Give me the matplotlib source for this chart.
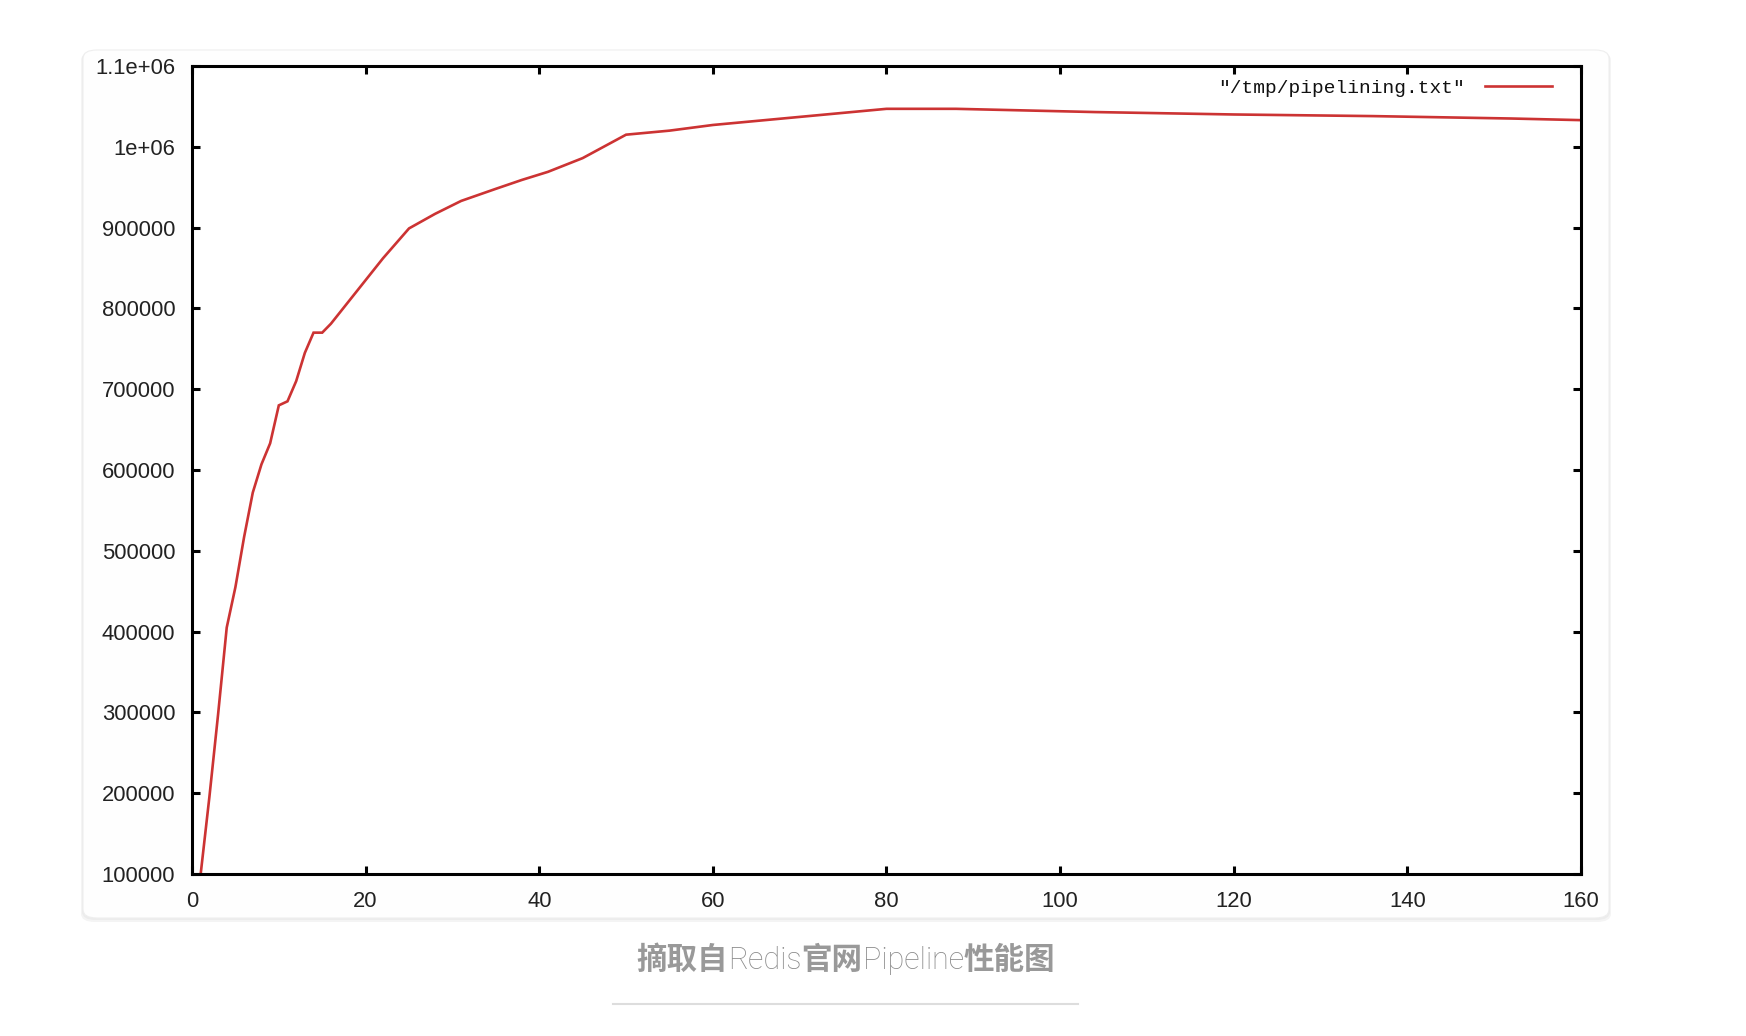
import matplotlib
matplotlib.use("Agg")
import matplotlib.pyplot as plt
from matplotlib.patches import FancyBboxPatch
from matplotlib.lines import Line2D
from matplotlib.offsetbox import TextArea, HPacker, AnchoredOffsetbox

# pipeline size vs. requests per second
pipeline = [1, 2, 3, 4, 5, 6, 7, 8, 9, 10, 11, 12, 13, 14, 15, 16, 18, 20,
            22, 25, 28, 31, 35, 38, 41, 45, 50, 55, 60, 65, 70, 75, 80, 88,
            96, 104, 120, 136, 152, 160]
rps = [100000, 195000, 297000, 405000, 455000, 517000, 572000, 607000,
       633000, 680000, 685000, 710000, 745000, 770000, 770000, 781000,
       808000, 835000, 862000, 899000, 917000, 933000, 948000, 959000,
       969000, 986000, 1015000, 1020000, 1027000, 1032000, 1037000,
       1042000, 1047000, 1047000, 1045000, 1043000, 1040000, 1038000,
       1035000, 1033000]

xticks = [0, 20, 40, 60, 80, 100, 120, 140, 160]
yticks = [100000, 200000, 300000, 400000, 500000, 600000, 700000, 800000,
          900000, 1000000, 1100000]
ytick_labels = ["100000", "200000", "300000", "400000", "500000", "600000",
                "700000", "800000", "900000", "1e+06", "1.1e+06"]
series_name = '"/tmp/pipelining.txt"'
caption_parts = [("摘取自", "cjk"), ("Redis", "latin"), ("官网", "cjk"),
                 ("Pipeline", "latin"), ("性能图", "cjk")]

W, H = 1746, 1036
fig = plt.figure(figsize=(W / 100, H / 100), dpi=100)
fig.patch.set_facecolor("white")

# card with a soft shadow
def px_box(x0, y0, x1, y1):
    return x0 / W, 1 - y1 / H, (x1 - x0) / W, (y1 - y0) / H

for off, col in [(4, "#f4f4f4"), (2, "#ececec")]:
    bx, by, bw, bh = px_box(83 - off / 2, 50 + off / 2, 1609 + off / 2, 918 + off)
    fig.patches.append(FancyBboxPatch((bx, by), bw, bh,
                                      boxstyle="round,pad=0,rounding_size=0.008",
                                      transform=fig.transFigure, facecolor=col,
                                      edgecolor="none", zorder=0))
bx, by, bw, bh = px_box(83, 50, 1609, 918)
fig.patches.append(FancyBboxPatch((bx, by), bw, bh,
                                  boxstyle="round,pad=0,rounding_size=0.008",
                                  transform=fig.transFigure, facecolor="#fefefe",
                                  edgecolor="#eeeeee", lw=0.8, zorder=1))

ax = fig.add_axes([192 / W, 1 - 874 / H, (1581 - 192) / W, (874 - 66) / H])
ax.set_zorder(2)
ax.set_facecolor("white")

ax.plot(pipeline, rps, color="#cc3333", lw=1.9, label=series_name,
        solid_joinstyle="miter")

ax.set_xlim(0, 160)
ax.set_ylim(100000, 1100000)
ax.set_xticks(xticks)
ax.set_xticklabels([str(t) for t in xticks])
ax.set_yticks(yticks)
ax.set_yticklabels(ytick_labels)

for sp in ax.spines.values():
    sp.set_linewidth(2.2)
    sp.set_color("black")
ax.tick_params(direction="in", length=6, width=2.2, top=True, right=True,
               labelsize=15.8, colors="black", labelcolor="#222222", pad=12)
for lab in ax.get_xticklabels() + ax.get_yticklabels():
    lab.set_fontfamily("Liberation Sans")

leg = ax.legend(loc="upper right", bbox_to_anchor=(0.979, 0.984),
                frameon=False, markerfirst=False, handlelength=3.45,
                handletextpad=1.0, borderpad=0, borderaxespad=0,
                prop={"family": "Liberation Mono", "size": 14})
for t in leg.get_texts():
    t.set_color("#111111")

# caption below the card
areas = []
for text, kind in caption_parts:
    if kind == "cjk":
        props = dict(family=["Noto Sans CJK SC"], weight="bold", size=22,
                     color="#999999")
    else:
        props = dict(family=["Roboto", "Noto Sans CJK SC"], weight="light",
                     size=22, color="#8a8a8a")
    areas.append(TextArea(text, textprops=props))
box = HPacker(children=areas, align="baseline", pad=0, sep=0)
anch = AnchoredOffsetbox(loc="center", child=box, frameon=False, pad=0,
                         borderpad=0, bbox_to_anchor=(846 / W, 1 - 960 / H),
                         bbox_transform=fig.transFigure)
fig.add_artist(anch)

fig.add_artist(Line2D([613 / W, 1078 / W], [1 - 1004 / H, 1 - 1004 / H],
                      transform=fig.transFigure, color="#dddddd", lw=1.5))

fig.savefig("out.png", dpi=100, facecolor="white")
